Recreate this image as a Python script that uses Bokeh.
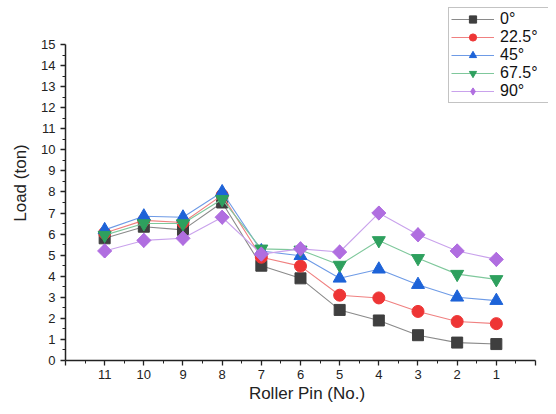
import math
from bokeh.plotting import figure
from bokeh.models import Range1d, FixedTicker, Legend, LegendItem
from bokeh.embed import file_html
from bokeh.resources import INLINE

pins = [11, 10, 9, 8, 7, 6, 5, 4, 3, 2, 1]
load_0 = [5.8, 6.35, 6.2, 7.5, 4.5, 3.9, 2.4, 1.9, 1.2, 0.85, 0.78]
load_22_5 = [6.05, 6.65, 6.55, 7.85, 4.9, 4.48, 3.1, 2.97, 2.33, 1.85, 1.75]
load_45 = [6.2, 6.85, 6.8, 8.0, 5.2, 4.97, 3.9, 4.33, 3.6, 3.0, 2.84]
load_67_5 = [5.95, 6.5, 6.5, 7.65, 5.3, 5.25, 4.53, 5.7, 4.85, 4.1, 3.85]
load_90 = [5.2, 5.7, 5.8, 6.8, 5.05, 5.3, 5.15, 7.0, 5.97, 5.2, 4.8]

series = [
    ("0°", load_0, "square", 0, "#3f3f3f", "#8a8a8a", 11),
    ("22.5°", load_22_5, "circle", 0, "#ee3535", "#f08080", 12),
    ("45°", load_45, "triangle", 0, "#1d63d8", "#6e9be6", 13),
    ("67.5°", load_67_5, "inverted_triangle", 0, "#2ea05e", "#7fc89c", 13),
    ("90°", load_90, "square", math.pi / 4, "#b06ee0", "#c9a2ec", 10),
]

p = figure(width=548, height=406, output_backend="svg", toolbar_location=None,
           x_range=Range1d(12, -0.332), y_range=Range1d(0, 16.85),
           min_border_left=65, min_border_right=0, min_border_top=5, min_border_bottom=46)
p.outline_line_color = None
p.xgrid.visible = False
p.ygrid.visible = False

items = []
for label, vals, marker, ang, mcol, lcol, size in series:
    lr = p.line(pins, vals, line_color=lcol, line_width=1.1)
    rends = [lr]
    if ang:
        key = p.scatter(pins, vals, marker="diamond", size=14, fill_color=mcol, line_color=mcol)
        rends.append(key)
    sr = p.scatter(pins, vals, marker=marker, angle=ang, size=size, fill_color=mcol, line_color=mcol)
    if not ang:
        rends.append(sr)
    items.append(LegendItem(label=label, renderers=rends))

legend = Legend(items=items, location=(383, 257), border_line_color="#888888", border_line_width=1,
                padding=2, spacing=0, margin=0, glyph_width=43, glyph_height=18, label_height=18,
                label_width=50, label_standoff=6, label_text_font="Liberation Sans",
                label_text_font_size="16px", label_text_color="#111111", background_fill_alpha=1)
p.add_layout(legend, "center")

p.xaxis.bounds = (0, 12)
p.yaxis.bounds = (0, 15)
p.xaxis.ticker = FixedTicker(ticks=list(range(0, 13)), minor_ticks=[i + 0.5 for i in range(12)])
p.xaxis.major_label_overrides = {0: "", 12: ""}
p.yaxis.ticker = FixedTicker(ticks=list(range(0, 16)), minor_ticks=[i + 0.5 for i in range(15)])

for ax in (p.xaxis[0], p.yaxis[0]):
    ax.axis_line_width = 1.5
    ax.axis_line_color = "#222222"
    ax.major_tick_line_color = "#222222"
    ax.minor_tick_line_color = "#222222"
    ax.major_tick_line_width = 1.3
    ax.major_tick_out = 5
    ax.major_tick_in = 0
    ax.minor_tick_out = 3
    ax.minor_tick_in = 0
    ax.major_label_text_font = "Liberation Sans"
    ax.major_label_text_font_size = "13px"
    ax.major_label_text_color = "#222222"
    ax.axis_label_text_font = "Liberation Sans"
    ax.axis_label_text_font_size = "17px"
    ax.axis_label_text_font_style = "normal"
    ax.axis_label_text_color = "#222222"

p.xaxis.axis_label = "Roller Pin (No.)"
p.yaxis.axis_label = "Load (ton)"
p.xaxis.major_label_standoff = 4
p.yaxis.major_label_standoff = 5
p.xaxis.axis_label_standoff = 2
p.yaxis.axis_label_standoff = 8

open("out.html", "w").write(file_html(p, INLINE))
